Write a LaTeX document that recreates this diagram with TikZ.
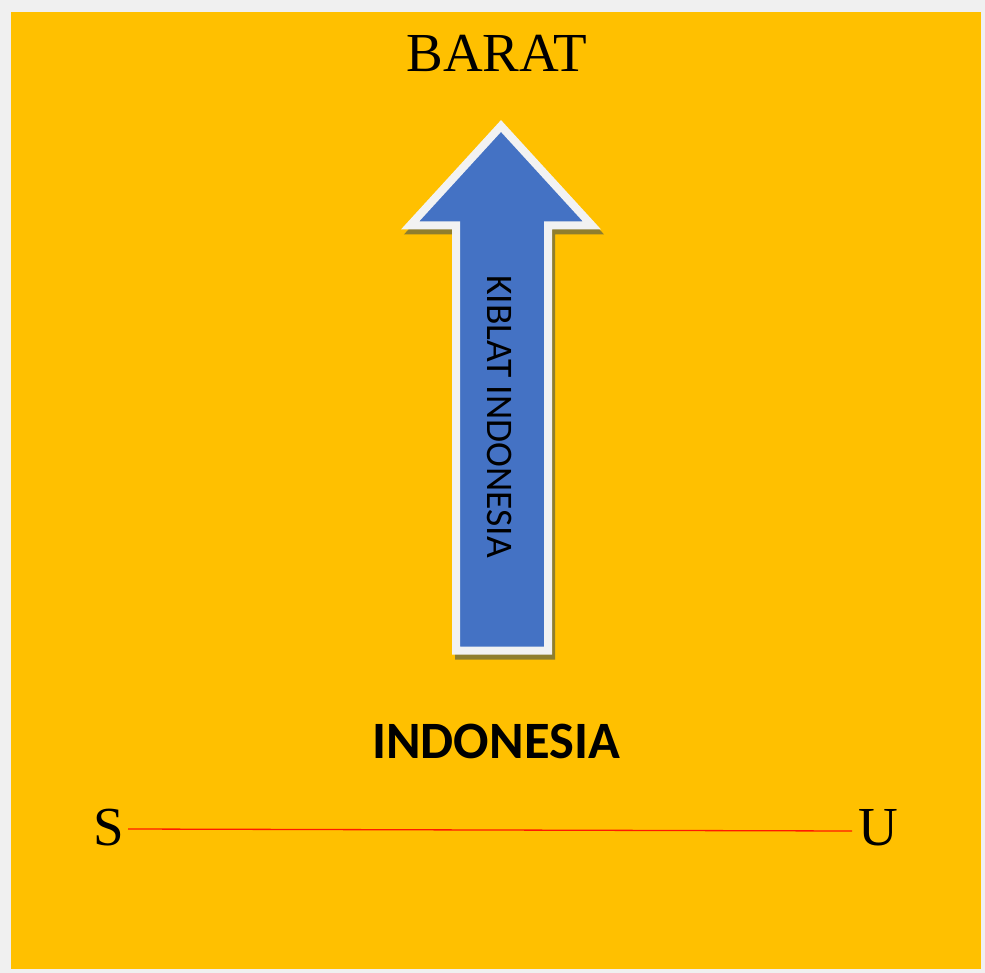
\documentclass[tikz,border=0pt]{standalone}
\usepackage{fontspec}
\setmainfont{Liberation Serif}
\newfontfamily\calibri{Carlito}
\definecolor{bgyellow}{HTML}{FFC000}
\definecolor{arrowblue}{HTML}{4472C4}
\definecolor{rimwhite}{HTML}{F2F2F2}
\definecolor{shadowolive}{HTML}{8F7E2E}
\definecolor{framegray}{HTML}{F0F0F0}
\definecolor{linered}{HTML}{FF1A00}
\begin{document}
\begin{tikzpicture}[x=1pt,y=-1pt,
  serifbig/.style={font=\fontsize{55}{55}\selectfont, inner sep=0pt, anchor=base},
  boldsans/.style={font=\calibri\bfseries\fontsize{52.5}{52.5}\selectfont, inner sep=0pt, anchor=base},
  vlabel/.style={font=\calibri\fontsize{37.5}{37.5}\selectfont, inner sep=0pt, rotate=-90},
  arrowbody/.style={fill=arrowblue, draw=rimwhite, line width=8pt, line join=miter},
  arrowshadow/.style={fill=shadowolive, draw=shadowolive, line width=8pt, line join=miter}]
\useasboundingbox (0,0) rectangle (985,973);
\fill[framegray] (0,0) rectangle (985,973);
\fill[bgyellow] (11,12) rectangle (981,969);
% shadow of arrow
\path[arrowshadow, shift={(3,5)}] (501,126) -- (592,225.5) -- (548,225.5) -- (548,650.5) -- (456,650.5) -- (456,225.5) -- (410,225.5) -- cycle;
% arrow
\path[arrowbody] (501,126) -- (592,225.5) -- (548,225.5) -- (548,650.5) -- (456,650.5) -- (456,225.5) -- (410,225.5) -- cycle;
\node[vlabel] (kiblat) at (500,416.5) {KIBLAT INDONESIA};
\node[serifbig] (barat) at (496.5,72) {BARAT};
\node[boldsans] (indonesia) at (496,758) {INDONESIA};
\node[serifbig] (s) at (108.5,845) {S};
\node[serifbig] (u) at (878,845) {U};
\coordinate (lineL) at (128,829);
\coordinate (lineR) at (852,831);
\draw[linered, line width=1.3pt] (lineL) -- (lineR);
\end{tikzpicture}
\end{document}
